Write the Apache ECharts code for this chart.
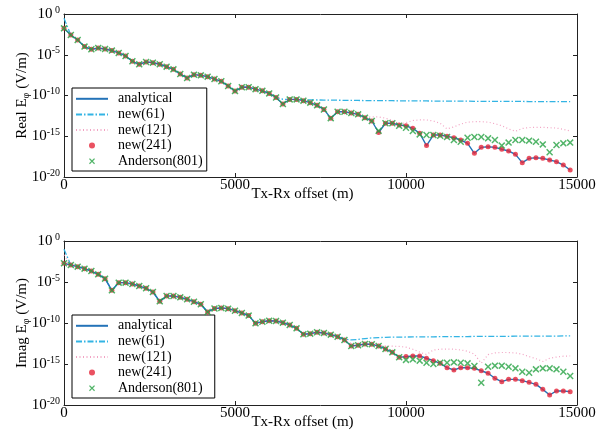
<!DOCTYPE html>
<html>
<head>
<meta charset="utf-8">
<script src="https://cdn.jsdelivr.net/npm/echarts@6/dist/echarts.min.js"></script>
<style>
  html, body { margin: 0; padding: 0; background: #fff; }
  #chart { width: 600px; height: 432px; }
</style>
</head>
<body>
<div id="chart"></div>
<script>
// Tx-Rx offsets in metres (one sample every 200 m)
const offsets = [
  0, 200, 400, 600, 800, 1000, 1200, 1400, 1600, 1800,
  2000, 2200, 2400, 2600, 2800, 3000, 3200, 3400, 3600, 3800,
  4000, 4200, 4400, 4600, 4800, 5000, 5200, 5400, 5600, 5800,
  6000, 6200, 6400, 6600, 6800, 7000, 7200, 7400, 7600, 7800,
  8000, 8200, 8400, 8600, 8800, 9000, 9200, 9400, 9600, 9800,
  10000, 10200, 10400, 10600, 10800, 11000, 11200, 11400, 11600, 11800,
  12000, 12200, 12400, 12600, 12800, 13000, 13200, 13400, 13600, 13800,
  14000, 14200, 14400, 14600, 14800
];

// all field values below are log10 of |E| in V/m

// --- Real part ---
const realAnalytical = [
  -1.76, -2.58, -3.19, -4.0, -4.33, -4.18, -4.29, -4.49, -4.78, -5.15,
  -5.8, -6.17, -5.89, -5.97, -6.17, -6.46, -6.79, -7.37, -7.85, -7.44,
  -7.53, -7.69, -7.98, -8.26, -8.83, -9.46, -8.99, -8.99, -9.22, -9.43,
  -9.74, -10.24, -11.04, -10.48, -10.48, -10.63, -10.88, -11.21, -11.71, -12.78,
  -11.99, -11.99, -12.14, -12.31, -12.72, -13.13, -14.54, -13.41, -13.41, -13.62,
  -13.71, -14.03, -14.63, -16.15, -14.85, -14.85, -15.01, -15.18, -15.46, -15.87,
  -17.09, -16.36, -16.28, -16.36, -16.6, -16.81, -17.22, -18.24, -17.71, -17.63,
  -17.71, -17.91, -18.12, -18.53, -19.14
];
// new(61) leaves the analytical curve after 6200 m
const realNew61Tail = [
  -10.46, -10.48, -10.5, -10.52, -10.53, -10.55, -10.56, -10.57, -10.58, -10.59,
  -10.6, -10.61, -10.62, -10.62, -10.63, -10.64, -10.64, -10.65, -10.66, -10.66,
  -10.67, -10.67, -10.68, -10.68, -10.69, -10.69, -10.7, -10.7, -10.71, -10.71,
  -10.72, -10.72, -10.72, -10.73, -10.73, -10.73, -10.74, -10.74, -10.74, -10.75,
  -10.75, -10.75, -10.76
];
// new(121) leaves it after 8600 m
const realNew121Tail = [
  -12.63, -12.63, -12.63, -12.78, -13.07, -13.51,
  -13.32, -13.07, -13.0, -13.0, -13.13, -13.41, -14.1, -13.85, -13.51, -13.27,
  -13.21, -13.21, -13.27, -13.46, -13.71, -14.1, -14.39, -14.05, -13.93, -13.91,
  -13.91, -13.95, -14.0, -14.15, -14.34
];
// Anderson(801) leaves it after 9000 m
const realAndersonTail = [
  -14.32, -13.41, -13.41, -13.71,
  -13.95, -14.36, -14.77, -14.85, -14.85, -14.93, -15.09, -15.46, -15.67, -15.18,
  -15.09, -15.09, -15.26, -15.46, -16.15, -15.78, -15.46, -15.46, -15.54, -15.67,
  -16.0, -16.97, -16.08, -15.87, -15.78
];
const realNew61 = [-0.53].concat(realAnalytical.slice(1, 32), realNew61Tail);
const realNew121 = [-1.6].concat(realAnalytical.slice(1, 44), realNew121Tail);
const realNew241 = realAnalytical.slice(); // sits on the analytical curve
const realAnderson = realAnalytical.slice(0, 46).concat(realAndersonTail);

// --- Imaginary part ---
const imagAnalytical = [
  -2.72, -2.93, -3.13, -3.37, -3.66, -4.07, -4.59, -6.02, -5.08, -5.08,
  -5.24, -5.49, -5.77, -6.22, -7.36, -6.71, -6.71, -6.87, -7.11, -7.4,
  -7.72, -8.66, -8.23, -8.17, -8.25, -8.5, -8.78, -9.1, -10.04, -9.84,
  -9.72, -9.76, -9.96, -10.24, -10.65, -11.38, -11.3, -11.13, -11.22, -11.42,
  -11.67, -12.07, -12.8, -12.72, -12.56, -12.6, -12.8, -13.17, -13.58, -14.18,
  -14.1, -14.02, -14.02, -14.3, -14.59, -14.92, -15.45, -15.73, -15.45, -15.45,
  -15.53, -15.82, -16.13, -16.74, -17.15, -16.87, -16.87, -17.03, -17.24, -17.48,
  -18.09, -18.78, -18.29, -18.29, -18.37
];
const imagNew61Tail = [
  -11.95, -12.07, -12.0, -11.9, -11.82, -11.78, -11.75, -11.73, -11.72,
  -11.71, -11.7, -11.69, -11.68, -11.68, -11.67, -11.66, -11.66, -11.65, -11.65,
  -11.64, -11.64, -11.63, -11.63, -11.62, -11.62, -11.61, -11.61, -11.6, -11.6,
  -11.6, -11.59, -11.59, -11.58, -11.58
];
const imagNew121Tail = [
  -12.5, -12.6, -12.6, -12.65, -12.72, -12.78, -12.82, -12.86,
  -12.95, -13.2, -13.55, -13.85, -13.3, -13.2, -13.18, -13.2, -13.28, -13.45,
  -13.8, -14.9, -13.85, -13.65, -13.6, -13.6, -13.65, -13.8, -14.1, -14.35,
  -14.7, -14.3, -14.15, -14.05, -14.02
];
const imagAndersonTail = [
  -14.5, -14.43, -14.59, -14.84, -15.0, -14.84, -14.84, -14.8, -14.84, -14.92,
  -15.24, -17.28, -15.33, -15.2, -15.2, -15.33, -15.53, -15.94, -16.06, -15.65,
  -15.53, -15.53, -15.65, -15.94, -16.46
];
const imagNew61 = [-1.0].concat(imagAnalytical.slice(1, 41), imagNew61Tail);
const imagNew121 = [-1.7].concat(imagAnalytical.slice(1, 42), imagNew121Tail);
const imagNew241 = imagAnalytical.slice();
const imagAnderson = imagAnalytical.slice(0, 50).concat(imagAndersonTail);

const xTicks = [0, 5000, 10000, 15000];
const seriesNames = ['analytical', 'new(61)', 'new(121)', 'new(241)', 'Anderson(801)'];

const FONT = 'Liberation Serif';
const AX = '#222';
const C_ANA = '#2473b8';
const C_61 = '#33b4e4';
const C_121 = '#f2a3c3';
const C_241 = '#e5253a';
const C_AND = '#27a244';
const CROSS = 'path://M0,1.5L1.5,0L5,3.5L8.5,0L10,1.5L6.5,5L10,8.5L8.5,10L5,6.5L1.5,10L0,8.5L3.5,5Z';

function pairs(arr) {
  return offsets.map((x, i) => [x, arr[i]]);
}

function xAxes(grid, nameGap) {
  const base = {
    type: 'value', gridIndex: grid, min: xTicks[0], max: xTicks[xTicks.length - 1],
    interval: xTicks[1] - xTicks[0],
    axisLine: { onZero: false, lineStyle: { color: AX, width: 1 } },
    axisTick: { inside: true, length: 4, lineStyle: { color: AX } },
    splitLine: { show: false }
  };
  return [
    Object.assign({}, base, {
      position: 'bottom',
      name: 'Tx-Rx offset (m)', nameLocation: 'middle', nameGap: nameGap, nameMoveOverlap: false,
      nameTextStyle: { fontFamily: FONT, fontSize: 15, color: '#000', padding: [0, 36, 0, 0] },
      axisLabel: { margin: 1, fontFamily: FONT, fontSize: 15, color: '#000', formatter: (v) => String(v) }
    }),
    Object.assign({}, base, { position: 'top', axisLabel: { show: false } })
  ];
}

function yAxes(grid, label) {
  const base = {
    type: 'value', gridIndex: grid, min: -20, max: 0, interval: 5,
    axisLine: { onZero: false, lineStyle: { color: AX, width: 1 } },
    axisTick: { inside: true, length: 4, lineStyle: { color: AX } },
    splitLine: { show: false }
  };
  return [
    Object.assign({}, base, {
      position: 'left',
      name: '{n|' + label + ' E}{s|φ}{n| (V/m)}', nameLocation: 'middle', nameGap: 33, nameMoveOverlap: false,
      nameTextStyle: {
        color: '#000',
        rich: {
          n: { fontFamily: FONT, fontSize: 15, lineHeight: 18, color: '#000' },
          s: { fontFamily: FONT, fontSize: 10, lineHeight: 10, verticalAlign: 'bottom', color: '#000' }
        }
      },
      axisLabel: {
        margin: 4,
        formatter: (v) => '{b|10}{s|' + (v === 0 ? ' 0' : v) + '}',
        rich: {
          b: { fontFamily: FONT, fontSize: 15, lineHeight: 18, color: '#000' },
          s: { fontFamily: FONT, fontSize: 10, lineHeight: 10, verticalAlign: 'top', color: '#000' }
        }
      }
    }),
    Object.assign({}, base, { position: 'right', axisLabel: { show: false } })
  ];
}

function legendFor(left, top, padRight) {
  return {
    left: left, top: top, orient: 'vertical', selectedMode: false,
    padding: [3, padRight, 2, 3], itemGap: 0, itemWidth: 32, itemHeight: 6,
    borderColor: '#000', borderWidth: 1, backgroundColor: '#fff',
    textStyle: { fontFamily: FONT, fontSize: 14, lineHeight: 15.6, color: '#000', padding: [0, 0, 0, 5] },
    data: [
      { name: seriesNames[0], itemStyle: { opacity: 0 } },
      { name: seriesNames[1], itemStyle: { opacity: 0 } },
      { name: seriesNames[2], itemStyle: { opacity: 0 } },
      { name: seriesNames[3] },
      { name: seriesNames[4] }
    ]
  };
}

function seriesFor(xi, yi, ana, n61, n121, n241, and) {
  return [
    { name: seriesNames[1], type: 'line', xAxisIndex: xi, yAxisIndex: yi, data: pairs(n61),
      showSymbol: false, symbol: 'none', color: C_61, lineStyle: { width: 1.3, color: C_61, type: [6, 2, 1.5, 2] }, z: 2 },
    { name: seriesNames[2], type: 'line', xAxisIndex: xi, yAxisIndex: yi, data: pairs(n121),
      showSymbol: false, symbol: 'none', color: C_121, lineStyle: { width: 1.2, color: C_121, type: [1, 2.5] }, z: 2 },
    { name: seriesNames[0], type: 'line', xAxisIndex: xi, yAxisIndex: yi, data: pairs(ana),
      showSymbol: false, symbol: 'none', color: C_ANA, lineStyle: { width: 1.4, color: C_ANA }, z: 3 },
    { name: seriesNames[3], type: 'scatter', xAxisIndex: xi, yAxisIndex: yi, data: pairs(n241),
      symbol: 'circle', symbolSize: 5, itemStyle: { color: C_241 }, z: 4 },
    { name: seriesNames[4], type: 'scatter', xAxisIndex: xi, yAxisIndex: yi, data: pairs(and),
      symbol: CROSS, symbolSize: 7, itemStyle: { color: C_AND }, z: 5 }
  ];
}

const chart = echarts.init(document.getElementById('chart'), null, { renderer: 'canvas' });
chart.setOption({
  animation: false,
  backgroundColor: '#fff',
  textStyle: { fontFamily: FONT },
  grid: [
    { left: 64, right: 23, top: 14, height: 163 },
    { left: 64, right: 23, top: 241, height: 164 }
  ],
  xAxis: xAxes(0, 10).concat(xAxes(1, 10)),
  yAxis: yAxes(0, 'Real').concat(yAxes(1, 'Imag')),
  legend: [legendFor(72, 88, 4), legendFor(72, 315, 12)],
  series: seriesFor(0, 0, realAnalytical, realNew61, realNew121, realNew241, realAnderson)
    .concat(seriesFor(2, 2, imagAnalytical, imagNew61, imagNew121, imagNew241, imagAnderson))
});
</script>
</body>
</html>
